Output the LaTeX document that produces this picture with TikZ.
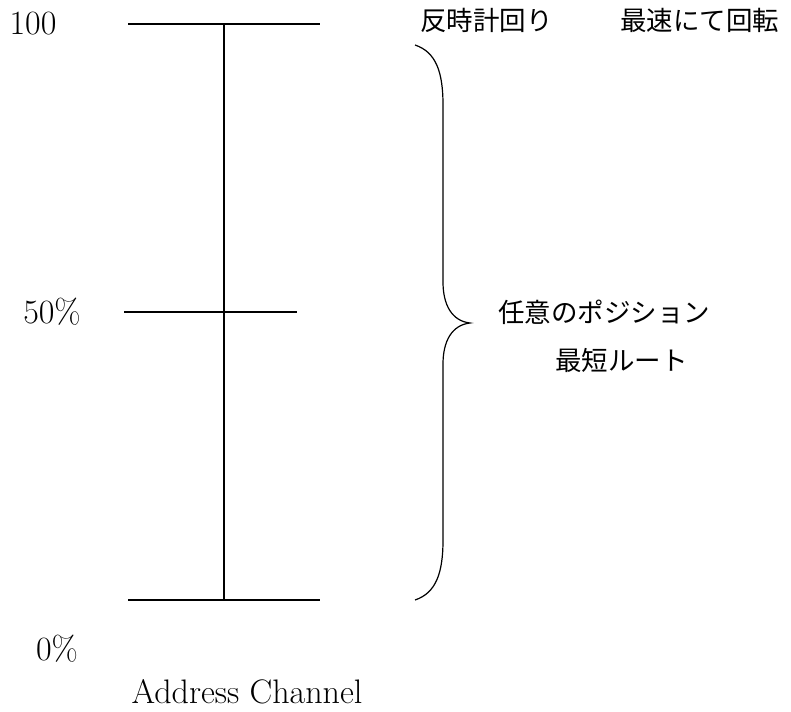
\documentclass[tikz,border=0pt]{standalone}
\usepackage{fontspec}
\newfontfamily\jpfont{Noto Sans CJK JP}
\begin{document}
\begin{tikzpicture}[
x=1 pt,
y=-1 pt,
scaleline/.style={
line width=1.6 pt,
},
numlabel/.style={
font=\fontsize{34}{38}\selectfont,
inner sep=0 pt,
anchor=base,
},
jplabel/.style={
font=\jpfont\fontsize{26.5}{30}\selectfont,
inner sep=0 pt,
anchor=west,
}
]
\useasboundingbox (0,0) rectangle (791,711);

% scale lines
\draw[scaleline]
(128,24) coordinate(top1) -- (320,24) coordinate(top2)
(124,312) coordinate(mid1) -- (297,312) coordinate(mid2)
(128,600) coordinate(bot1) -- (320,600) coordinate(bot2)
;
\draw[scaleline] (224,24) coordinate(axtop) -- (224,600) coordinate(axbot);

% scale labels
\node [numlabel] at (33,35) (p100) {100};
\node [numlabel] at (52,323) (p50) {50\%};
\node [numlabel] at (57,660) (p0) {0\%};
\node [numlabel, text depth=0 pt] at (247,703) (axname) {Address Channel};

% brace
\draw[line width=1.2 pt]
(415,45) coordinate(br1)
.. controls (436,52) and (443,72) .. (443,105)
-- (443,282)
.. controls (443,305) and (452,321) .. (470,323) coordinate(brtip)
.. controls (452,325) and (443,341) .. (443,364)
-- (443,540)
.. controls (443,573) and (436,593) .. (415,600) coordinate(br2)
;

% texts
\node [jplabel] at (420,20) (ccw) {反時計回り};
\node [jplabel] at (620,20) (fast) {最速にて回転};
\node [jplabel] at (498,312) (anypos) {任意のポジション};
\node [jplabel] at (555,360) (shortest) {最短ルート};

\end{tikzpicture}
\end{document}
